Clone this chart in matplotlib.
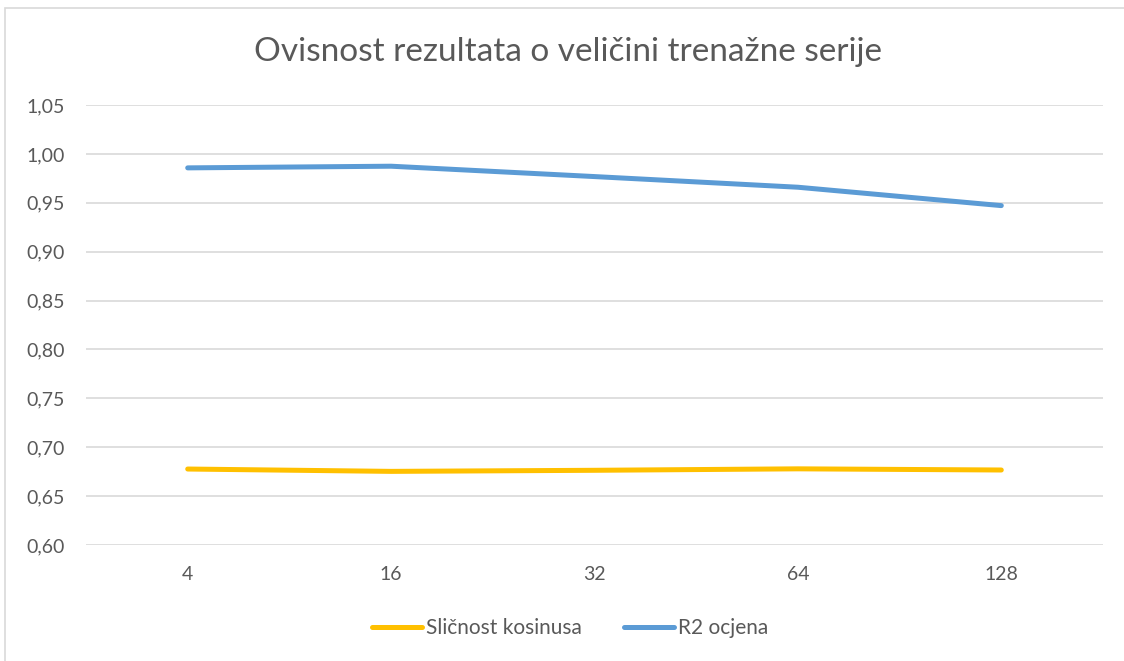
import matplotlib
matplotlib.use("Agg")
import matplotlib.pyplot as plt
from matplotlib.patches import Rectangle

plt.rcParams["font.family"] = ["Lato", "DejaVu Sans"]

batch_sizes = ["4", "16", "32", "64", "128"]
cosine_sim = [0.6777, 0.6753, 0.6764, 0.6779, 0.6767]
r2_score = [0.9857, 0.9874, 0.9768, 0.9659, 0.9471]
y_ticks = [0.60, 0.65, 0.70, 0.75, 0.80, 0.85, 0.90, 0.95, 1.00, 1.05]

text_col = "#595959"
grid_col = "#D9D9D9"

fig = plt.figure(figsize=(11.24, 6.61), dpi=100)
ax = fig.add_axes([86 / 1124, 1 - 545 / 661, (1103 - 86) / 1124, 440 / 661])

# chart frame
fig.patches.append(Rectangle((5 / 1124, -0.1), 1.2, 1 - 8 / 661 + 0.1,
                             transform=fig.transFigure, fill=False,
                             edgecolor=grid_col, linewidth=1.2))

x = range(len(batch_sizes))
ax.plot(x, cosine_sim, color="#FFC000", linewidth=3.6,
        solid_capstyle="round", label="Sličnost kosinusa")
ax.plot(x, r2_score, color="#5B9BD5", linewidth=3.6,
        solid_capstyle="round", label="R2 ocjena")

ax.set_xlim(-0.5, len(batch_sizes) - 0.5)
ax.set_ylim(0.60, 1.05)
ax.set_xticks(list(x))
ax.set_xticklabels(batch_sizes)
ax.set_yticks(y_ticks)
ax.set_yticklabels([f"{v:.2f}".replace(".", ",") for v in y_ticks])
ax.tick_params(length=0, labelsize=14, colors=text_col)
ax.tick_params(axis="x", pad=15)
ax.tick_params(axis="y", pad=15)
ax.grid(axis="y", color=grid_col, linewidth=1.2)
ax.set_axisbelow(True)
for s in ax.spines.values():
    s.set_visible(False)

fig.text(0.505, 1 - 52 / 661, "Ovisnost rezultata o veličini trenažne serije",
         ha="center", va="center", fontsize=24, color=text_col)

fig.legend(loc="center", bbox_to_anchor=(0.507, 1 - 628 / 661), ncol=2,
           frameon=False, fontsize=15, labelcolor=text_col,
           handlelength=2.4, handletextpad=0.2, columnspacing=2.0)

fig.savefig("out.png", dpi=100)
